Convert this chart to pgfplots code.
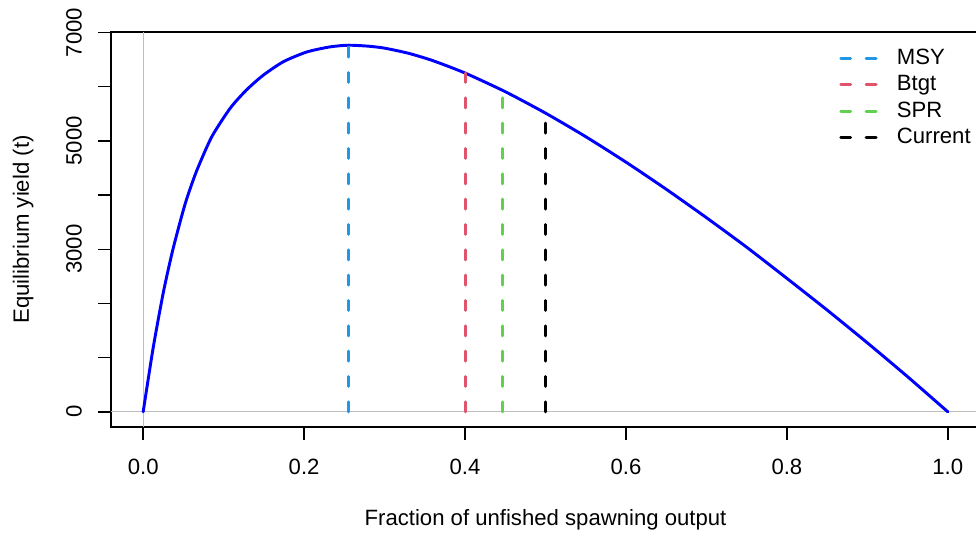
\documentclass[border=0pt]{standalone}
\usepackage{pgfplots}
\pgfplotsset{compat=1.18}
\usepackage{fontspec}
\setmainfont{Liberation Sans}
\definecolor{cmsy}{HTML}{2297E6}
\definecolor{cbtgt}{HTML}{DF536B}
\definecolor{cspr}{HTML}{61D04F}
\definecolor{cgr}{HTML}{BEBEBE}
\begin{document}
\begin{tikzpicture}
\begin{axis}[
  name=ax,
  scale only axis,
  width=651.75pt, height=296.25pt,
  xmin=-0.04, xmax=1.04, ymin=-280, ymax=7010,
  axis line style={line width=1.1pt},
  every tick/.style={black, line width=1.1pt},
  tick align=outside,
  major tick length=9.5pt,
  xtick={0,0.2,0.4,0.6,0.8,1.0},
  xticklabels={0.0,0.2,0.4,0.6,0.8,1.0},
  ytick={0,1000,2000,3000,4000,5000,6000,7000},
  yticklabels={0,,,3000,,5000,,7000},
  xtick pos=bottom, ytick pos=left,
  /pgf/number format/assume math mode=true,
  ticklabel style={font=\fontsize{16.6}{19}\selectfont},
  xticklabel style={anchor=north, inner sep=0pt},
  yticklabel style={rotate=90, anchor=south, inner sep=0pt},
  xticklabel shift=14pt,
  yticklabel shift=12.25pt,
  xlabel={Fraction of unfished spawning output},
  ylabel={Equilibrium yield (t)},
  label style={font=\fontsize{16.6}{19}\selectfont},
  xlabel style={at={([yshift=-74.25pt]axis description cs:0.5,0)}, anchor=base, inner sep=0pt},
  ylabel style={at={([xshift=-61.5pt]axis description cs:0,0.5)}, rotate=0, anchor=base, inner sep=0pt},
  legend cell align=left,
  legend image code/.code={\draw[#1] (0pt,0.55pt) -- (26.5pt,0.55pt);},
  legend style={draw=none, fill=none, inner sep=0pt, outer sep=0pt,
    at={(rel axis cs:0,1)}, anchor=north west, xshift=546.2pt, yshift=-13.3pt,
    font=\fontsize{16.6}{19}\selectfont, row sep=5.5pt,
    nodes={inner sep=0pt, text height=11pt, text depth=3.3pt},
    /tikz/every odd column/.append style={column sep=14.5pt}},
]
\addplot[cgr, line width=0.9pt, forget plot] coordinates {(-0.04,0) (1.04,0)};
\addplot[cgr, line width=0.9pt, forget plot] coordinates {(0,-280) (0,7010)};
\addplot[blue, line width=2.2pt, line join=round, line cap=round, smooth, tension=0.4, forget plot] coordinates {
(0,0) (0.0124,1180) (0.025,2200) (0.037,3000) (0.052,3830) (0.066,4430)
(0.085,5070) (0.108,5600) (0.128,5935) (0.149,6210) (0.174,6460) (0.203,6640)
(0.232,6735) (0.255,6766) (0.28,6748) (0.30,6712) (0.33,6616) (0.36,6481)
(0.40,6253) (0.45,5908) (0.50,5513) (0.55,5078) (0.60,4608) (0.65,4108)
(0.70,3583) (0.75,3038) (0.80,2463) (0.85,1878) (0.90,1273) (0.95,648) (1.0,0)};
\addplot[cmsy, line width=2.2pt, line cap=round, dash pattern=on 7.5pt off 11.5pt] coordinates {(0.2547,0) (0.2547,6766)};
\addlegendentry{MSY}
\addplot[cbtgt, line width=2.2pt, line cap=round, dash pattern=on 7.5pt off 11.5pt] coordinates {(0.400,0) (0.400,6253)};
\addlegendentry{Btgt}
\addplot[cspr, line width=2.2pt, line cap=round, dash pattern=on 7.5pt off 11.5pt] coordinates {(0.446,0) (0.446,5935)};
\addlegendentry{SPR}
\addplot[black, line width=2.2pt, line cap=round, dash pattern=on 7.5pt off 11.5pt] coordinates {(0.500,0) (0.500,5513)};
\addlegendentry{Current}
\end{axis}
\pgfresetboundingbox
\path ([shift={(-83.25pt,-79.5pt)}]ax.south west) rectangle ([shift={(648.75pt,24pt)}]ax.north west);
\end{tikzpicture}
\end{document}
